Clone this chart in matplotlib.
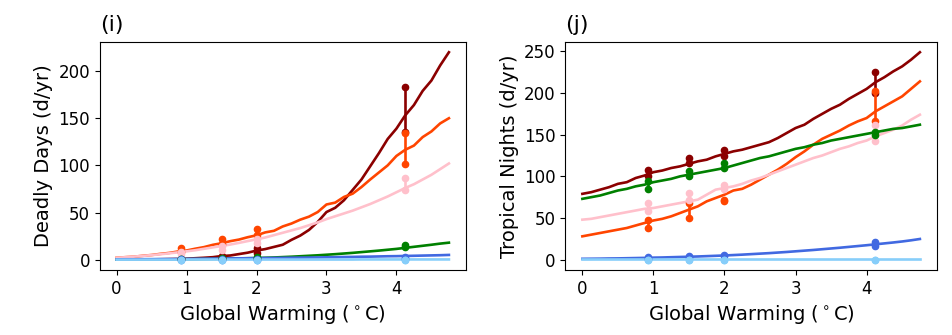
import numpy as np
import matplotlib.pyplot as plt

# Warming levels for the curves (0 to 4.75 C in 0.125 steps)
warming = np.arange(39) * 0.125

# Deadly days per year for each scenario curve
dd_darkred = [0.0, 0.1, 0.2, 0.2, 0.3, 0.4, 0.6, 0.7, 1.0, 1.5, 2.0, 2.6, 3.8, 4.4, 5.9, 7.4, 9.6, 11.2, 13.5, 15.8, 21.0, 25.5, 31.5, 40.0,
              50.5, 55.0, 63.0, 74.0, 85.0, 99.0, 113.0, 128.0, 139.0, 153.0, 164.0, 179.0, 190.0, 206.0, 220.0]
dd_orange = [2.0, 2.6, 3.1, 4.1, 4.9, 6.1, 7.1, 8.6, 9.7, 11.6, 13.3, 15.7, 17.4, 19.6, 21.3, 23.8, 25.8, 28.9, 30.6, 35.2, 38.3, 42.4, 45.6, 50.5,
             58.5, 60.5, 66.5, 70.0, 77.0, 85.0, 92.5, 100.0, 110.0, 116.5, 121.0, 130.0, 136.0, 144.5, 150.0]
dd_pink = [2.0, 2.5, 3.2, 4.0, 4.8, 5.7, 6.7, 7.7, 8.8, 10.0, 11.5, 13.0, 14.5, 16.0, 17.8, 19.7, 21.5, 23.5, 26.0, 28.5, 31.0, 33.5, 36.5, 39.5,
           43.0, 46.0, 49.0, 52.0, 55.5, 59.0, 63.0, 67.0, 71.5, 76.0, 80.0, 85.0, 90.0, 96.0, 102.0]
dd_green = [0.0, 0.0, 0.1, 0.1, 0.2, 0.2, 0.3, 0.4, 0.5, 0.6, 0.7, 0.8, 1.0, 1.1, 1.3, 1.5, 1.7, 2.0, 2.3, 2.7, 3.1, 3.6, 4.1, 4.6,
            5.2, 5.8, 6.5, 7.2, 8.0, 8.8, 9.6, 10.5, 11.4, 12.5, 13.6, 14.7, 15.8, 17.0, 18.0]
dd_blue = [0.3, 0.4, 0.4, 0.5, 0.5, 0.6, 0.6, 0.7, 0.8, 0.9, 1.0, 1.1, 1.2, 1.3, 1.4, 1.5, 1.6, 1.7, 1.8, 1.9, 2.0, 2.1, 2.2, 2.3,
           2.5, 2.6, 2.8, 2.9, 3.1, 3.2, 3.4, 3.6, 3.7, 3.9, 4.1, 4.3, 4.5, 4.7, 5.0]
dd_lightblue = [0.0, 0.0, 0.0, 0.0, 0.0, 0.0, 0.0, 0.0, 0.1, 0.1, 0.1, 0.1, 0.1, 0.1, 0.1, 0.1, 0.1, 0.1, 0.1, 0.1, 0.1, 0.1, 0.1, 0.1,
                0.1, 0.1, 0.1, 0.1, 0.2, 0.2, 0.2, 0.2, 0.2, 0.2, 0.2, 0.2, 0.2, 0.2, 0.2]

# Tropical nights per year for each scenario curve
tn_darkred = [79, 81, 84, 87, 91, 93, 98, 101, 105, 107, 110, 112, 115, 118, 120, 124, 127, 130, 132, 135, 138, 141, 146, 152,
              158, 162, 169, 175, 181, 186, 193, 199, 205, 213, 219, 226, 232, 240, 249]
tn_green = [73, 75, 77, 80, 83, 85, 88, 90, 93, 95, 97, 100, 102, 104, 106, 108, 110, 113, 116, 119, 122, 124, 127, 130,
            133, 135, 138, 140, 143, 145, 147, 149, 151, 153, 155, 157, 158, 160, 162]
tn_pink = [48, 49, 51, 53, 55, 57, 59, 61, 62, 64, 66, 68, 70, 72, 78, 84, 86, 88, 91, 95, 98, 102, 106, 110,
           114, 118, 122, 125, 129, 133, 136, 140, 143, 148, 152, 156, 161, 168, 174]
tn_orange = [28, 30, 32, 34, 36, 38, 41, 44, 47, 49, 52, 56, 60, 64, 70, 74, 78, 83, 85, 90, 96, 102, 108, 115,
             123, 130, 138, 145, 150, 155, 161, 166, 170, 178, 184, 190, 196, 205, 214]
tn_blue = [1.0, 1.1, 1.2, 1.4, 1.5, 1.7, 1.9, 2.1, 2.4, 2.6, 2.9, 3.2, 3.5, 3.8, 4.2, 4.6, 5.0, 5.5, 6.0, 6.6, 7.2, 7.8, 8.5, 9.2,
           10.0, 10.8, 11.6, 12.5, 13.4, 14.3, 15.3, 16.3, 17.3, 18.4, 19.5, 20.6, 21.8, 23.2, 24.8]
tn_lightblue = [0.5] * 39

# Model ranges at the four warming periods (low, high) per colour
period_x = [0.92, 1.5, 2.0, 4.12]
dd_ranges = {
    'darkred':      [(0.5, 1.0), (2.0, 4.0), (7.0, 12.0), (135.0, 183.0)],
    'orangered':    [(8.0, 12.0), (17.0, 22.0), (26.0, 32.0), (101.0, 134.0)],
    'pink':         [(6.0, 8.0), (10.0, 14.0), (18.0, 22.0), (74.0, 87.0)],
    'green':        [(0.5, 1.0), (1.0, 2.0), (1.5, 2.5), (13.0, 16.0)],
    'royalblue':    [(0.0, 0.5), (0.0, 0.5), (0.0, 0.5), (1.0, 3.0)],
    'lightskyblue': [(0.0, 0.0), (0.0, 0.0), (0.0, 0.0), (0.0, 0.0)],
}
tn_ranges = {
    'darkred':      [(100, 108), (116, 122), (125, 132), (200, 225)],
    'orangered':    [(38, 48), (50, 68), (70, 72), (166, 203)],
    'pink':         [(58, 68), (72, 80), (85, 90), (143, 162)],
    'green':        [(85, 95), (101, 106), (110, 116), (150, 153)],
    'royalblue':    [(1, 3), (3, 4), (4, 6), (16, 21)],
    'lightskyblue': [(0, 0), (0, 0), (0, 0), (0, 0)],
}

colors = ['darkred', 'orangered', 'pink', 'green', 'royalblue', 'lightskyblue']
dd_series = [dd_darkred, dd_orange, dd_pink, dd_green, dd_blue, dd_lightblue]
tn_series = [tn_darkred, tn_orange, tn_pink, tn_green, tn_blue, tn_lightblue]

fig = plt.figure(figsize=(9.52, 3.35), dpi=100)
ax1 = fig.add_axes([0.105, 0.194, 0.384, 0.681])
ax2 = fig.add_axes([0.594, 0.194, 0.390, 0.681])


def draw_panel(ax, series, ranges, title, ylabel):
    for c, vals in zip(colors, series):
        ax.plot(warming, vals, color=c, linewidth=1.9)
    for c in colors:
        for px, (lo, hi) in zip(period_x, ranges[c]):
            ax.plot([px, px], [lo, hi], color=c, linewidth=1.9,
                    marker='o', markersize=4.5)
    ax.set_title(title, loc='left', fontsize=16, pad=8)
    ax.set_xlabel(r'Global Warming ($^\circ$C)', fontsize=14)
    ax.set_ylabel(ylabel, fontsize=14)
    ax.tick_params(labelsize=12)
    ax.set_xticks([0, 1, 2, 3, 4])


draw_panel(ax1, dd_series, dd_ranges, '(i)', 'Deadly Days (d/yr)')
draw_panel(ax2, tn_series, tn_ranges, '(j)', 'Tropical Nights (d/yr)')
ax1.set_yticks([0, 50, 100, 150, 200])
ax2.set_yticks([0, 50, 100, 150, 200, 250])

fig.savefig('out.png', dpi=100)
